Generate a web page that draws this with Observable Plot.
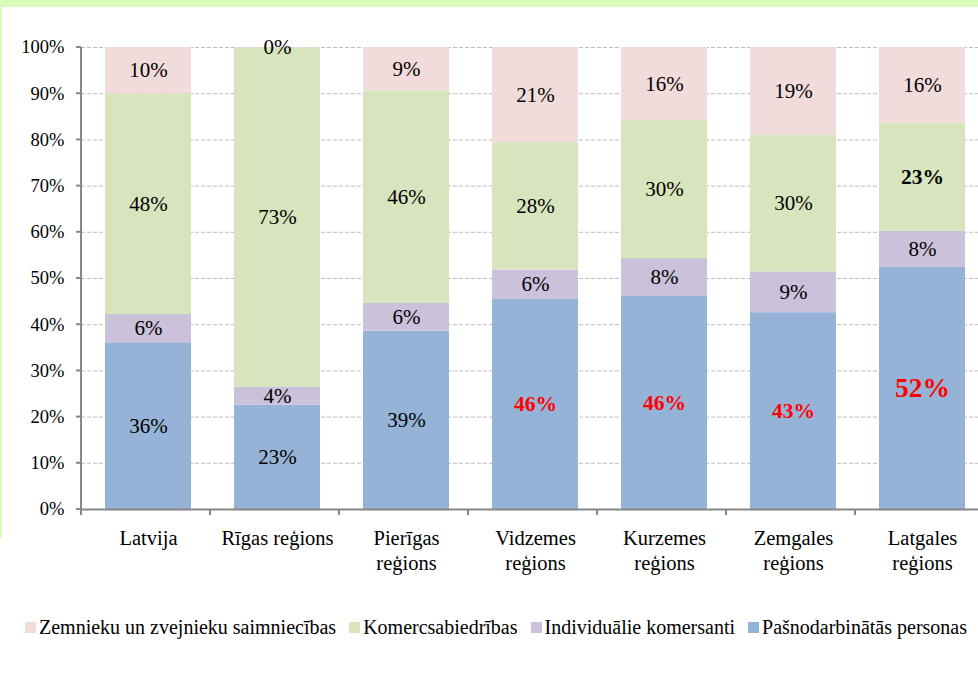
<!DOCTYPE html>
<html>
<head>
<meta charset="utf-8">
<script src="https://cdn.jsdelivr.net/npm/d3@7"></script>
<script src="https://cdn.jsdelivr.net/npm/@observablehq/plot@0.6"></script>
<style>
  html, body { margin: 0; padding: 0; background: #fff; overflow: hidden; }
  #wrap { position: relative; width: 978px; height: 691px; overflow: hidden; font-family: "Liberation Serif", serif; }
  #topband { position: absolute; left: 0; top: 0; width: 978px; height: 7px; background: #d9fdb9; }
  #leftband { position: absolute; left: 0; top: 0; width: 2px; height: 538px; background: #d9fdb9; }
  #chart { position: absolute; left: 0; top: 0; width: 988px; }
  #chart svg { max-width: none !important; }
  #legend { position: absolute; left: 25px; top: 615px; height: 24px; display: flex; align-items: center; font-size: 20px; color: #000; white-space: nowrap; }
  #legend .item { display: flex; align-items: center; margin-right: 13px; }
  #legend .sw { width: 11px; height: 11px; margin-right: 3px; }
</style>
</head>
<body>
<div id="wrap">
  <div id="topband"></div>
  <div id="leftband"></div>
  <div id="chart"></div>
  <div id="legend"></div>
</div>
<script>
// Categories (x) and their displayed labels
const categories = ["Latvija", "Rīgas reģions", "Pierīgas reģions", "Vidzemes reģions", "Kurzemes reģions", "Zemgales reģions", "Latgales reģions"];
const categoryLabels = ["Latvija", "Rīgas reģions", "Pierīgas\nreģions", "Vidzemes\nreģions", "Kurzemes\nreģions", "Zemgales\nreģions", "Latgales\nreģions"];

// Series, bottom to top of the stack
const seriesNames = ["Pašnodarbinātās personas", "Individuālie komersanti", "Komercsabiedrības", "Zemnieku un zvejnieku saimniecības"];
const seriesColors = ["#95b3d7", "#ccc1da", "#d7e4bd", "#f2dcdb"];

// Shares in percent, per category
const pasnodarbinatas   = [36.1, 22.6, 38.6, 45.6, 46.1, 42.6, 52.4];
const individualie      = [6.1, 3.9, 6.0, 6.2, 8.2, 8.8, 7.8];
const komercsabiedribas = [47.8, 73.4, 46.0, 27.6, 29.9, 29.6, 23.4];
const zemnieku          = [10.0, 0.1, 9.4, 20.6, 15.8, 19.0, 16.4];

// Legend order (left to right)
const legendOrder = ["Zemnieku un zvejnieku saimniecības", "Komercsabiedrības", "Individuālie komersanti", "Pašnodarbinātās personas"];

// Y tick values
const yTicks = [0, 0.1, 0.2, 0.3, 0.4, 0.5, 0.6, 0.7, 0.8, 0.9, 1.0];

// Highlighted labels
const redBold = [
  {category: "Vidzemes reģions", series: "Pašnodarbinātās personas", size: 21.5},
  {category: "Kurzemes reģions", series: "Pašnodarbinātās personas", size: 21.5},
  {category: "Zemgales reģions", series: "Pašnodarbinātās personas", size: 21.5},
  {category: "Latgales reģions", series: "Pašnodarbinātās personas", size: 27.5}
];
const blackBold = [
  {category: "Latgales reģions", series: "Komercsabiedrības", size: 21.5}
];

const seriesValues = [pasnodarbinatas, individualie, komercsabiedribas, zemnieku];
const data = [];
categories.forEach((c, i) => {
  seriesNames.forEach((s, j) => {
    data.push({category: c, series: s, value: seriesValues[j][i] / 100});
  });
});

const find = (arr, d) => arr.find(h => h.category === d.category && h.series === d.series);
const lbl = d => Math.round(d.value * 100) + "%";

const stackOpts = (extra) => Plot.stackY({x: "category", y: "value", z: "series", ...extra});

const plot = Plot.plot({
  width: 988,
  height: 580,
  marginTop: 47,
  marginBottom: 71,
  marginLeft: 81,
  marginRight: 0,
  style: {fontFamily: "'Liberation Serif', serif", fontSize: "18.5px", color: "#000", background: "transparent", maxWidth: "none"},
  x: {domain: categories, axis: null, paddingInner: 0.336, paddingOuter: 0.168},
  y: {domain: [0, 1], ticks: yTicks, tickFormat: d => Math.round(d * 100) + "%", tickSize: 0, tickPadding: 17, label: null},
  color: {domain: seriesNames, range: seriesColors},
  marks: [
    Plot.ruleY(yTicks.filter(d => d > 0), {stroke: "#bdbdbd", strokeWidth: 1, strokeDasharray: "4,2"}),
    Plot.barY(data, stackOpts({fill: "series"})),
    Plot.text(data, stackOpts({text: d => (find(redBold, d) || find(blackBold, d)) ? null : lbl(d), fill: "#000", fontSize: 21})),
    Plot.text(data, stackOpts({text: d => find(redBold, d) ? lbl(d) : null, fill: "#ff0000", fontWeight: "bold", fontSize: d => (find(redBold, d) || {size: 21}).size})),
    Plot.text(data, stackOpts({text: d => find(blackBold, d) ? lbl(d) : null, fill: "#000", fontWeight: "bold", fontSize: d => (find(blackBold, d) || {size: 21}).size})),
    Plot.ruleY([0], {stroke: "#868686", strokeWidth: 2}),
    Plot.text(categories, {x: d => d, text: (d, i) => categoryLabels[i], frameAnchor: "bottom", lineAnchor: "top", dy: 18, fontSize: 20.5, fill: "#000", lineHeight: 1.22})
  ]
});

// Axis lines and ticks drawn from the plot's own scales
const ys = plot.scale("y");
const xs = plot.scale("x");
const x0 = xs.range[0];
const step = xs.step || (xs.range[1] - xs.range[0]) / categories.length;
const svg = d3.select(plot);
svg.style("max-width", "none");
const g = svg.append("g").attr("stroke", "#868686").attr("stroke-width", 2);
g.append("line").attr("x1", x0).attr("x2", x0).attr("y1", ys.apply(1)).attr("y2", ys.apply(0));
yTicks.forEach(t => {
  g.append("line").attr("x1", x0 - 5).attr("x2", x0).attr("y1", ys.apply(t)).attr("y2", ys.apply(t));
});
for (let i = 0; i <= categories.length; i++) {
  g.append("line").attr("x1", x0 + i * step).attr("x2", x0 + i * step).attr("y1", ys.apply(0)).attr("y2", ys.apply(0) + 6);
}

document.getElementById("chart").appendChild(plot);

// Legend
const legend = document.getElementById("legend");
legendOrder.forEach(name => {
  const item = document.createElement("div");
  item.className = "item";
  const sw = document.createElement("span");
  sw.className = "sw";
  sw.style.background = seriesColors[seriesNames.indexOf(name)];
  const t = document.createElement("span");
  t.textContent = name;
  item.appendChild(sw);
  item.appendChild(t);
  legend.appendChild(item);
});
</script>
</body>
</html>
